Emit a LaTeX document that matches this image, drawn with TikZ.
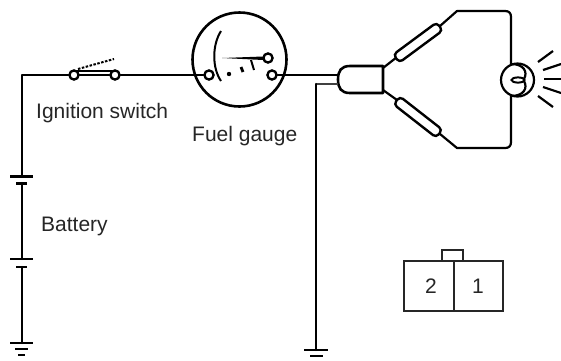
\documentclass[tikz,border=0pt]{standalone}
\usepackage{fontspec}
\setmainfont{Liberation Sans}
\tikzset{
  wire/.style={line width=2.2pt,black,line cap=round,line join=round},
  thin wire/.style={line width=1.8pt,black},
  terminal/.style={circle,draw=black,line width=2.2pt,fill=white,inner sep=0pt,minimum size=9pt},
  label text/.style={inner sep=0pt,text=black!85,font=\fontsize{21}{24}\selectfont,anchor=base west},
  sleeve/.style={line width=2.4pt,black,rounded corners=4pt,fill=white},
  box line/.style={line width=1.8pt,black!85},
}
\begin{document}
\begin{tikzpicture}[x=1pt,y=-1pt]
\useasboundingbox (0,0) rectangle (561,360);
\fill[white] (0,0) rectangle (561,360);
% named points
\coordinate (corner) at (22,75);
\coordinate (plateA) at (22,176.5);
\coordinate (plateB) at (22,183);
\coordinate (plateC) at (22,259);
\coordinate (plateD) at (22,267);
\coordinate (gndA) at (22,343);
\coordinate (gndB) at (316,350);
\coordinate (bend) at (316,84);
% switch and gauge
\node[circle,draw=black,line width=2.6pt,inner sep=0pt,minimum size=94pt] (gauge) at (239.5,59.5) {};
\node[terminal] (sw1) at (74,75) {};
\node[terminal] (sw2) at (115,75) {};
\node[terminal] (g1) at (209,75) {};
\node[terminal] (g2) at (272,75) {};
\node[terminal] (g3) at (268,58) {};
% connector body
\node[inner sep=0pt,minimum size=0pt] (cL1) at (338,75) {};
\node[inner sep=0pt,minimum size=0pt] (cL2) at (338,84) {};
\draw[line width=2.6pt,black,line join=round] (383,66) -- (350,66) .. controls (341,66) and (338,71) .. (338,79.5) .. controls (338,88) and (341,93) .. (350,93) -- (383,93) -- cycle;
\coordinate (cU) at (383,68);
\coordinate (cD) at (383,90);
% main wires
\draw[wire] (sw1) -- (corner) -- (plateA);
\draw[wire] (sw1) -- (sw2);
\draw[wire] (sw2) -- (g1);
\draw[wire] (g2) -- (cL1);
\draw[thin wire,black!75] (cL2) -- (bend);
\draw[wire] (bend) -- (gndB);
\draw[wire] (plateB) -- (plateC);
\draw[wire] (plateD) -- (gndA);
\node[terminal] at (sw1) {};
\node[terminal] at (sw2) {};
\node[terminal] at (g1) {};
\node[terminal] at (g2) {};
% switch blade
\draw[line width=2.4pt] (75,71) -- (112,71);
\draw[line width=2pt,dash pattern=on 2.5pt off 1.5pt] (78,69) -- (114,59);
% battery and grounds
\draw[wire,line cap=butt] (10,176.5) -- (33,176.5);
\draw[wire,line cap=butt] (16,183.5) -- (27,183.5);
\draw[wire,line cap=butt] (10,259) -- (33,259);
\draw[wire,line cap=butt] (16,267) -- (27,267);
\draw[wire,line cap=butt] (10,343) -- (33,343);
\draw[wire,line cap=butt] (15,349) -- (28,349);
\draw[wire,line cap=butt] (18,355) -- (25,355);
\draw[wire,line cap=butt] (304,350) -- (328,350);
\draw[wire,line cap=butt] (310,356) -- (323,356);
% gauge inside
\draw[line width=2pt] (221,31) .. controls (212,45) and (212,68) .. (221,81);
\fill (222,58) -- (263,56.5) -- (263,60) -- cycle;
\fill (229,74) circle (2.2pt);
\draw[line width=2.8pt] (241,67) -- (243,72);
\draw[line width=2pt] (251,60) -- (254,70);
\node[terminal] at (g3) {};
% branches
\coordinate (tr) at (511,11);
\coordinate (br) at (511,148);
\coordinate (bulbT) at (511,65);
\coordinate (bulbB) at (511,95);
\draw[wire] (cU) -- (397,57) -- (440,26) -- (457,11) -- (505,11) .. controls (509,11) and (511,13) .. (511,17) -- (bulbT);
\draw[wire] (cD) -- (397,100) -- (440,134) -- (457,148) -- (505,148) .. controls (509,148) and (511,146) .. (511,142) -- (bulbB);
\begin{scope}[shift={(418,42.5)},rotate=36.5]
\draw[sleeve] (-27,-5) rectangle (27,5);
\end{scope}
\begin{scope}[shift={(418,117)},rotate=-38]
\draw[sleeve] (-27,-5) rectangle (27,5);
\end{scope}
% bulb
\node[circle,draw=black,line width=2.2pt,inner sep=0pt,minimum size=33pt] (bulb) at (517.5,80) {};
\draw[line width=2.2pt] (511,64) .. controls (524,64) and (528,72) .. (524,79);
\draw[line width=2.2pt] (511,96) .. controls (524,96) and (528,88) .. (524,81);
\draw[line width=2pt] (518,80) ellipse (6.5pt and 2.6pt);
% rays
\draw[line width=2.2pt] (538,62) -- (553,51);
\draw[line width=2.2pt] (543,70) -- (561,64);
\draw[line width=2.2pt] (544,79) -- (561,79);
\draw[line width=2.2pt] (543,87) -- (561,93);
\draw[line width=2.2pt] (538,96) -- (553,107);
% connector diagram
\draw[box line] (404,261) rectangle (503,311);
\draw[box line] (454,261) -- (454,311);
\draw[box line] (442,261) -- (442,250) -- (463,250) -- (463,261);
% labels
\node[label text] (ign) at (36,118) {Ignition switch};
\node[label text] (fuel) at (192,141) {Fuel gauge};
\node[label text] (bat) at (41,231) {Battery};
\node[label text] (two) at (425,293) {2};
\node[label text] (one) at (472,293) {1};
\end{tikzpicture}
\end{document}
